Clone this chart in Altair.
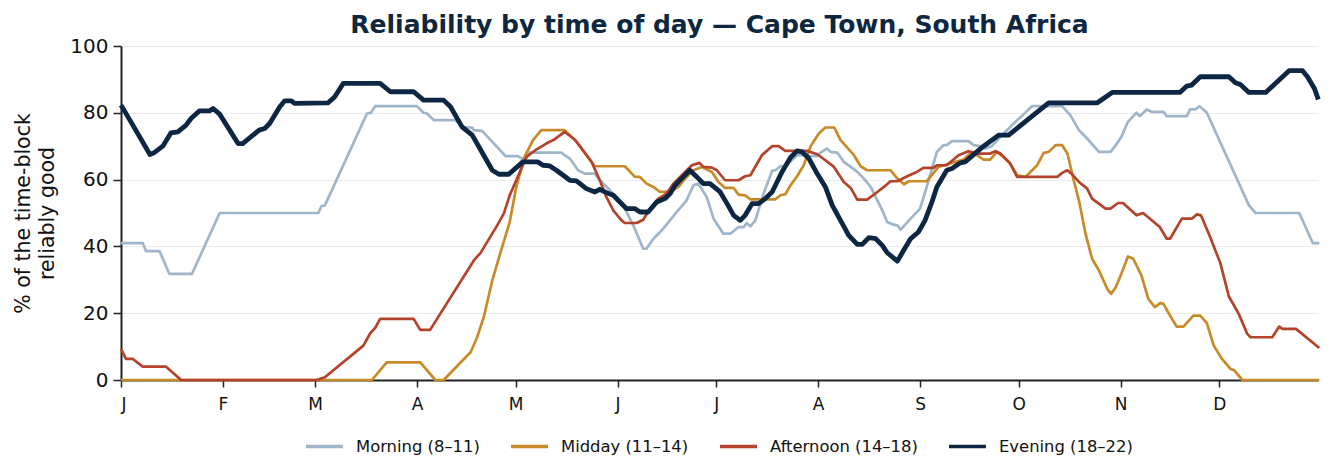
import altair as alt
import pandas as pd

series_names = ["Morning (8–11)", "Midday (11–14)", "Afternoon (14–18)", "Evening (18–22)"]
series_colors = ["#9fb5ca", "#c98a28", "#b4432b", "#0c2643"]

month_days = [0, 31, 59, 90, 120, 151, 181, 212, 243, 273, 304, 334]
month_labels = ["J", "F", "M", "A", "M", "J", "J", "A", "S", "O", "N", "D"]
y_ticks = [0, 20, 40, 60, 80, 100]

morning_day = [0, 6.6, 7.6, 11.7, 14.7, 21.6, 30, 60, 61, 62, 74.8, 76, 77.3, 90, 92, 93, 95.2, 101.7, 104.2,
               106.8, 107.3, 109.8, 117, 120.7, 122.7, 124.3, 133.9, 134.9, 136.5, 139, 141, 144.1, 145.6, 148.7,
               152.7, 155.8, 158.8, 159.8, 161.9, 164.9, 169, 172, 174.1, 175.6, 178.1, 180.2, 183.2, 185.3, 187.8,
               189.3, 190.3, 191.4, 192.9, 195.4, 198, 199, 200.5, 202, 205.6, 207.1, 209.7, 211.7, 212.7, 214.7,
               215.8, 217.8, 219.8, 221.9, 223.9, 225.9, 228, 230, 231.5, 233, 234.6, 236.1, 237.1, 240.1, 243,
               245, 248.1, 250.1, 251.1, 252.7, 257.7, 259.3, 261.3, 262.8, 264.8, 268.4, 272.5, 275, 277, 286.2,
               288.7, 291.3, 293.8, 297.4, 300.9, 302.5, 304.2, 306.2, 308.8, 309.8, 311.9, 313.4, 317, 318, 324.1,
               325.1, 326.7, 328, 330.2, 343, 345, 358.3, 362.4, 364.4]
morning_val = [41, 41, 38.6, 38.6, 31.8, 31.8, 50, 50, 52.1, 52.3, 79.8, 80, 82, 82, 80, 79.8, 77.8, 77.8, 75.6,
               75.6, 74.8, 74.6, 67, 67, 65.8, 68.1, 68.1, 67.3, 66.3, 62.8, 61.8, 61.8, 59.8, 56.8,
               52.3, 46.3, 39.3, 39.3, 42.3, 45.3, 50.3, 53.8, 58.3, 58.8, 54.8, 48.3, 43.8, 43.8, 45.8,
               45.8, 47, 46, 47.8, 55.8, 62.6, 62.8, 64, 64, 67.3, 67.3, 67, 67, 68.1, 69.3,
               68.3, 68.1, 65.3, 63.8, 62.3, 60.3, 57.8, 53.8, 50.8, 47.3, 46.6, 46.3, 45, 48.3, 51.3,
               57.8, 68.3, 70.3, 70.3, 71.5, 71.5, 70.3, 70, 69.3, 70, 73.8, 77.8, 80, 82, 82,
               79.3, 74.8, 72.3, 68.3, 68.3, 70.3, 72.8, 77.3, 80, 79, 81, 80.3, 80.3, 79, 79,
               81, 81, 82, 80, 52.3, 50, 50, 41, 41]

midday_day = [0, 76.3, 80.8, 91, 95.6, 98.1, 106.3, 108.3, 110.3, 112.9, 115.5, 118.2, 120.2, 122.7, 125.3, 127.8,
              134.9, 138.5, 141.5, 144.1, 153.2, 156.3, 157.8, 159.8, 161.9, 163.9, 167, 169.5, 172, 174.1, 176.6,
              179.7, 181.7, 183.7, 186.3, 187.8, 189.8, 191.4, 199, 200.5, 202, 203.6, 205.6, 207.6, 209.7, 212.2,
              214.2, 216.9, 218.8, 222.9, 224.9, 226.9, 234, 236.1, 238.1, 239.6, 245, 248.6, 256.2, 258.8, 260.3,
              262.3, 264.3, 266.4, 268.9, 270.4, 272.5, 275, 278.6, 280.6, 282.1, 284.2, 286.2, 287.8, 289.7, 291.3,
              293.3, 295.3, 297.4, 299.9, 301.1, 302.5, 304.2, 306.2, 307.8, 310.3, 312.4, 314.4, 316, 317, 319,
              321, 323.1, 326.1, 328.2, 330.2, 332.3, 334.8, 337.4, 338.4, 341, 364.4]
midday_val = [0, 0, 5.3, 5.3, 0, 0, 8.3, 12.8, 18.8, 29.8, 38.5, 47.3, 57.8, 66.8, 71.8, 74.8,
              74.8, 71.3, 67.3, 64, 64, 60.8, 60.8, 58.8, 57.8, 56.3, 56.3, 57.8, 60.8, 62.8, 63.8,
              62.3, 59.3, 57.5, 57.5, 55.5, 55.3, 54.1, 54.1, 55.3, 55.6, 58.3, 61, 64.3, 70, 73.8,
              75.6, 75.6, 71.8, 67.3, 64, 62.8, 62.8, 60.3, 58.6, 59.5, 59.5, 63.8, 66, 68.3, 67.3,
              66, 66, 68.3, 66.3, 64.8, 61.3, 60.8, 64.3, 68, 68.3, 70.3, 70.3, 67.8, 59.8, 53.8,
              43.8, 36.3, 32.8, 27.3, 25.8, 27.8, 31.8, 37, 36.3, 31.3, 24.3, 21.8, 23, 22.8, 19.3,
              16, 16, 19.3, 19.3, 17, 10.3, 6.3, 3.3, 3, 0, 0]

afternoon_day = [0, 1.5, 3.6, 6.6, 13.7, 18.3, 59.5, 62, 73.7, 75.8, 77.3, 78.8, 89, 91, 94, 107.3, 109.3, 114.4,
                 116.4, 118.2, 120.2, 123.3, 126.3, 129.3, 131.9, 134.9, 138, 140.5, 143.1, 145.6, 147.6, 149.7,
                 152.2, 153.2, 156.8, 158.8, 160.9, 163.4, 165.9, 168, 171, 173.6, 175.9, 177.1, 179.7, 181.2,
                 183.7, 187.8, 189.8, 191.4, 194.9, 198, 200, 202, 208.6, 211.7, 214.2, 216.8, 219.8, 221.9, 223.9,
                 226.9, 230, 232, 234, 236.1, 239.1, 242, 244, 247.1, 248.1, 251.1, 254.7, 257.7, 260.3, 264.3,
                 265.9, 267.4, 270.4, 272.5, 284.7, 286.2, 287.8, 289.3, 291.3, 293.8, 295.3, 299.4, 300.9, 303.2,
                 304.7, 308.8, 310.8, 315.9, 318, 319, 322.6, 325.6, 327.2, 328.4, 331.2, 334.3, 336.9, 339.9,
                 342.5, 343.5, 350.1, 352.2, 353.2, 357.3, 364.4]
afternoon_val = [9.3, 6.3, 6.3, 4, 4, 0, 0, 0.8, 10.3, 14, 15.6, 18.3, 18.3, 15, 15, 35.8, 38, 46.3,
                 49.8, 55.3, 59.8, 66.8, 69, 70.8, 72.1, 74.3, 72, 68.8, 65.3, 59.8, 54.8, 50.8,
                 47.8, 47, 47, 48, 51.3, 54.3, 55.8, 58.8, 61.8, 64.3, 65, 63.8, 63.6, 62.8,
                 59.8, 59.8, 61, 61.3, 67.3, 70, 70, 68.6, 68.6, 67.6, 65.8, 63.8, 59.3, 57.5, 54,
                 54, 56.3, 57.8, 59.5, 59.5, 61, 62.3, 63.5, 63.5, 64.3, 64.3, 67.3, 68.5, 67.8, 67.8,
                 68.5, 67.8, 64.8, 60.8, 60.8, 62, 62.8, 61.5, 59.3, 57.3, 54.3, 51.3, 51.3, 53,
                 53, 49.3, 50, 45.8, 42.3, 42.3, 48.3, 48.3, 49.6, 49.3, 42.8, 35, 25, 19.8,
                 13.8, 12.8, 12.8, 16, 15.3, 15.3, 9.6]

evening_day = [0, 2, 8.8, 10, 12.7, 15.2, 17.3, 19.8, 21.3, 23.9, 27, 28, 30, 35.6, 37, 42, 43.7, 45.2, 48.3, 49.8,
               51.8, 52.8, 63, 65, 67.6, 78.8, 81.9, 89, 92, 98.1, 100.2, 103.7, 106.8, 110.3, 112.9, 114.9, 117.9,
               122.2, 126.8, 128.3, 130.4, 132.4, 136.5, 138.5, 141.5, 144.1, 145.6, 147.6, 149.7, 151.7, 153.7,
               156.3, 157.8, 160.3, 162.9, 165.4, 167, 168.5, 171, 173, 175.1, 177.1, 179.1, 182.2, 184.3, 186.3,
               188.3, 189.8, 191.9, 193.9, 195.9, 198, 199.5, 201, 203.6, 205.6, 207.1, 209.2, 211.7, 214.2, 216.3,
               218.8, 221.3, 223.9, 225.4, 227.4, 229.5, 231.5, 233, 236.1, 238.1, 240.1, 242.5, 244.5, 246.6,
               248.1, 251.1, 252.7, 255.2, 256.7, 262.3, 266.9, 269.9, 282.1, 296.9, 301.4, 322, 324.1, 325.6,
               328.2, 336.9, 338.9, 340.4, 343, 348.1, 355.2, 359.3, 360.8, 362.9, 364.1]
evening_val = [82.3, 79, 67.5, 68, 70, 74, 74.3, 76.3, 78.3, 80.6, 80.6, 81.3, 79.6, 70.8, 70.8, 74.8, 75.3, 76.8,
               81.8, 83.6, 83.6, 82.8, 83, 84.8, 88.8, 88.8, 86.3, 86.3, 83.8, 83.8, 81.8, 75.8, 73.3, 67.3, 62.8,
               61.6, 61.6, 65.3, 65.3, 64.3, 64.1, 62.8, 59.8, 59.6, 57.3, 56.3, 57.1, 56.1, 55.3, 53.3, 51.3,
               51.3, 50.3, 50.3, 53.3, 54.3, 55.8, 58.3, 60.8, 62.8, 60.8, 58.8, 58.8, 56.3, 52.8, 49.3,
               47.8, 49.3, 52.8, 52.8, 54.3, 56.3, 59.3, 62.3, 66.6, 68.6, 68.3, 66.3, 61.8, 57.8, 52.3,
               47.8, 43.3, 40.6, 40.6, 42.6, 42.3, 40.3, 38.1, 35.6, 39, 42.3, 44.3, 47.8, 53.3,
               57.8, 62.8, 63.3, 65, 65.3, 70, 73.3, 73.3, 83, 83, 86.1, 86.1, 88, 88.3,
               90.8, 90.8, 89, 88.5, 86.1, 86.1, 92.6, 92.6, 90.8, 87.3, 84]

rows = []
for name, days, vals in zip(series_names,
                            [morning_day, midday_day, afternoon_day, evening_day],
                            [morning_val, midday_val, afternoon_val, evening_val]):
    for i, (d, v) in enumerate(zip(days, vals)):
        rows.append({"series": name, "day": d, "value": v, "order": i})
df = pd.DataFrame(rows)

label_expr = ("[" + ",".join("'%s'" % m for m in month_labels) + "][indexof(["
              + ",".join(str(d) for d in month_days) + "], datum.value)]")

FONT = "DejaVu Sans"

base = alt.Chart(df).encode(
    x=alt.X("day:Q",
            scale=alt.Scale(domain=[0, 364], nice=False, zero=False),
            axis=alt.Axis(values=month_days, labelExpr=label_expr, title=None, grid=False,
                          tickSize=7, tickWidth=1.5, tickColor="#222", domainColor="#222", domainWidth=2,
                          labelPadding=9, labelFontSize=17, labelColor="#111", labelFont=FONT)),
    y=alt.Y("value:Q",
            scale=alt.Scale(domain=[0, 100], nice=False),
            axis=alt.Axis(values=y_ticks, title=["% of the time-block", "reliably good"],
                          titleFontSize=20.5, titleFont=FONT, titleFontWeight="normal", titleColor="#111",
                          titleLineHeight=24, titlePadding=12,
                          grid=True, gridColor="#ebebeb", gridWidth=1.2,
                          tickSize=8, tickWidth=1.5, tickColor="#222", domainColor="#222", domainWidth=2,
                          labelPadding=5, labelFontSize=20, labelColor="#111", labelFont=FONT)),
    color=alt.Color("series:N", scale=alt.Scale(domain=series_names, range=series_colors),
                    legend=alt.Legend(title=None)),
    detail="series:N",
    order="order:Q",
)

thin = base.transform_filter(alt.datum.series != series_names[3]).mark_line(strokeWidth=2.7, strokeJoin="round")
thick = base.transform_filter(alt.datum.series == series_names[3]).mark_line(strokeWidth=4.8, strokeJoin="round")

chart = alt.layer(thin, thick).properties(
    width=1197,
    height=334,
    autosize=alt.AutoSizeParams(type="none"),
    padding={"left": 121, "top": 46, "right": 15, "bottom": 95},
    title=alt.TitleParams("Reliability by time of day — Cape Town, South Africa",
                          fontSize=25, fontWeight="bold", color="#0d2740", font=FONT,
                          anchor="middle", offset=-2),
).configure_view(stroke=None).configure_legend(
    orient="none", legendX=183, legendY=380, direction="horizontal",
    symbolType="stroke", symbolSize=1369, symbolStrokeWidth=3.5,
    labelFontSize=16.4, labelFont=FONT, labelColor="#111",
    columnPadding=24, labelOffset=11
)

chart.save("out.html", embed_options={"renderer": "svg", "actions": False})
